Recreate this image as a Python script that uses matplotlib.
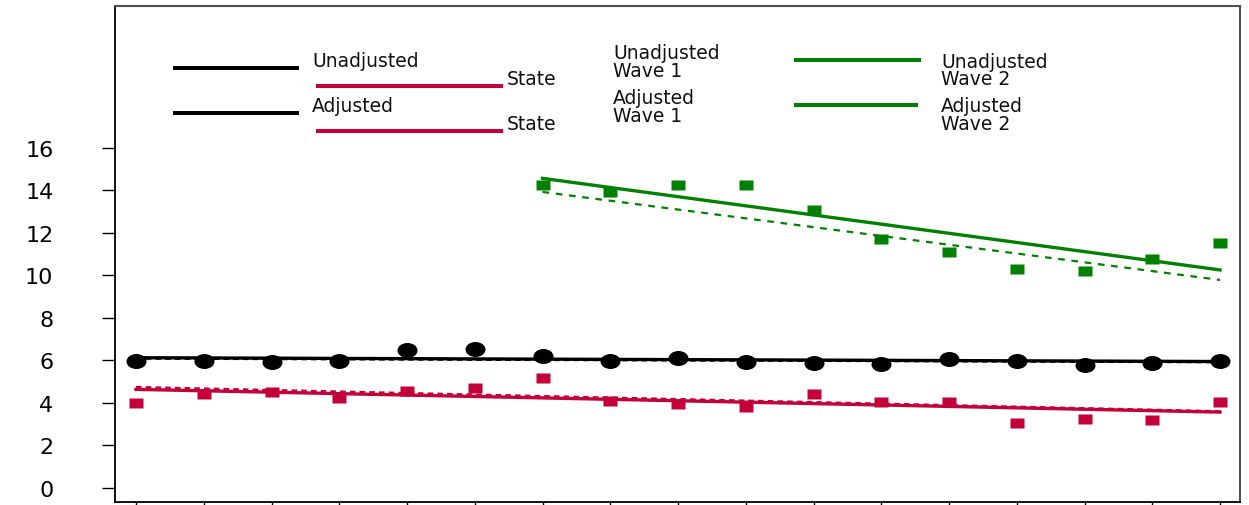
import matplotlib
matplotlib.use("Agg")
import matplotlib.pyplot as plt
import numpy as np
from matplotlib.lines import Line2D
from matplotlib.path import Path

plt.rcParams["font.family"] = ["DejaVu Sans"]

# periods 1..17
periods = list(range(1, 18))

overall_values = [5.98, 5.98, 5.93, 5.98, 6.50, 6.54, 6.20, 5.98, 6.12,
                  5.95, 5.90, 5.82, 6.05, 5.96, 5.77, 5.87, 5.98]
state_values = [3.98, 4.41, 4.50, 4.22, 4.56, 4.70, 5.18, 4.11, 3.94,
                3.81, 4.42, 4.03, 4.06, 3.06, 3.26, 3.18, 4.06]
wave_periods = list(range(7, 18))
wave_values = [14.27, 13.91, 14.24, 14.26, 13.08, 11.72, 11.12, 10.32,
               10.23, 10.78, 11.53]

# fitted trend lines: (first period, last period) values
overall_fit_unadj = [6.13, 5.95]
overall_fit_adj = [6.10, 5.93]
state_fit_unadj = [4.64, 3.57]
state_fit_adj = [4.74, 3.60]
wave_fit_unadj = [14.57, 10.26]
wave_fit_adj = [13.93, 9.79]

BLACK = "#000000"
RED = "#C4003A"
GREEN = "#008000"

W, H = 1249, 506


def fig_xy(px, py):
    return px / W, 1 - py / H


ellipse = Path(Path.unit_circle().vertices * [1.0, 0.75], Path.unit_circle().codes)
rect = Path([(-1, -0.72), (1, -0.72), (1, 0.72), (-1, 0.72), (-1, -0.72)],
            [Path.MOVETO, Path.LINETO, Path.LINETO, Path.LINETO, Path.CLOSEPOLY])

fig = plt.figure(figsize=(W / 100, H / 100), dpi=100)
ax = fig.add_axes([115 / W, 1 - 503 / H, 1125 / W, 496 / H])

ends = [periods[0], periods[-1]]
wave_ends = [wave_periods[0], wave_periods[-1]]
ax.plot(ends, overall_fit_adj, color=BLACK, lw=2.0, ls=(0, (2, 1.5)), zorder=2)
ax.plot(ends, overall_fit_unadj, color=BLACK, lw=2.4, zorder=2)
ax.plot(ends, state_fit_adj, color=RED, lw=2.0, ls=(0, (2, 1.5)), zorder=2)
ax.plot(ends, state_fit_unadj, color=RED, lw=2.4, zorder=2)
ax.plot(wave_ends, wave_fit_adj, color=GREEN, lw=1.6, ls=(0, (3, 3)), zorder=2)
ax.plot(wave_ends, wave_fit_unadj, color=GREEN, lw=2.4, zorder=2)

ax.plot(periods, overall_values, ls="none", marker=ellipse, ms=14.4,
        color=BLACK, mec="none", zorder=3)
ax.plot(periods, state_values, ls="none", marker=rect, ms=10,
        color=RED, mec="none", zorder=3)
ax.plot(wave_periods, wave_values, ls="none", marker=rect, ms=10.5,
        color=GREEN, mec="none", zorder=3)

ax.set_xlim(0.69, 17.295)
ax.set_ylim(-0.66, 22.68)
ax.set_xticks(periods)
ax.set_xticklabels([])
ax.set_yticks(np.arange(0, 17, 2))
ax.tick_params(axis="both", direction="out", length=9.4, width=1.0, color=BLACK)
ax.tick_params(axis="y", labelsize=16, pad=35)
for lab in ax.get_yticklabels():
    lab.set_horizontalalignment("right")
for side in ("left", "bottom"):
    ax.spines[side].set_linewidth(1.3)
    ax.spines[side].set_color(BLACK)
for side in ("top", "right"):
    ax.spines[side].set_linewidth(1.5)
    ax.spines[side].set_color("#505050")

# hand-built key
key_lines = [
    (175, 297, 68.5, BLACK),
    (175, 297, 113.5, BLACK),
    (318, 501, 87, RED),
    (318, 501, 131.5, RED),
    (796, 919, 61, GREEN),
    (796, 916, 106, GREEN),
]
for x0, x1, py, c in key_lines:
    (fx0, fy), (fx1, _) = fig_xy(x0, py), fig_xy(x1, py)
    fig.add_artist(Line2D([fx0, fx1], [fy, fy], color=c, lw=2.9))

key_texts = [
    (312, 67, "Unadjusted"),
    (312, 112, "Adjusted"),
    (507, 85, "State"),
    (507, 130, "State"),
    (613, 59, "Unadjusted"),
    (613, 77, "Wave 1"),
    (613, 104, "Adjusted"),
    (613, 122, "Wave 1"),
    (941, 68, "Unadjusted"),
    (941, 85, "Wave 2"),
    (941, 112, "Adjusted"),
    (941, 130, "Wave 2"),
]
for px, py, s in key_texts:
    fx, fy = fig_xy(px, py)
    fig.text(fx, fy, s, fontsize=13.5, ha="left", va="baseline", color="#111111")

fig.savefig("out.png", dpi=100)
